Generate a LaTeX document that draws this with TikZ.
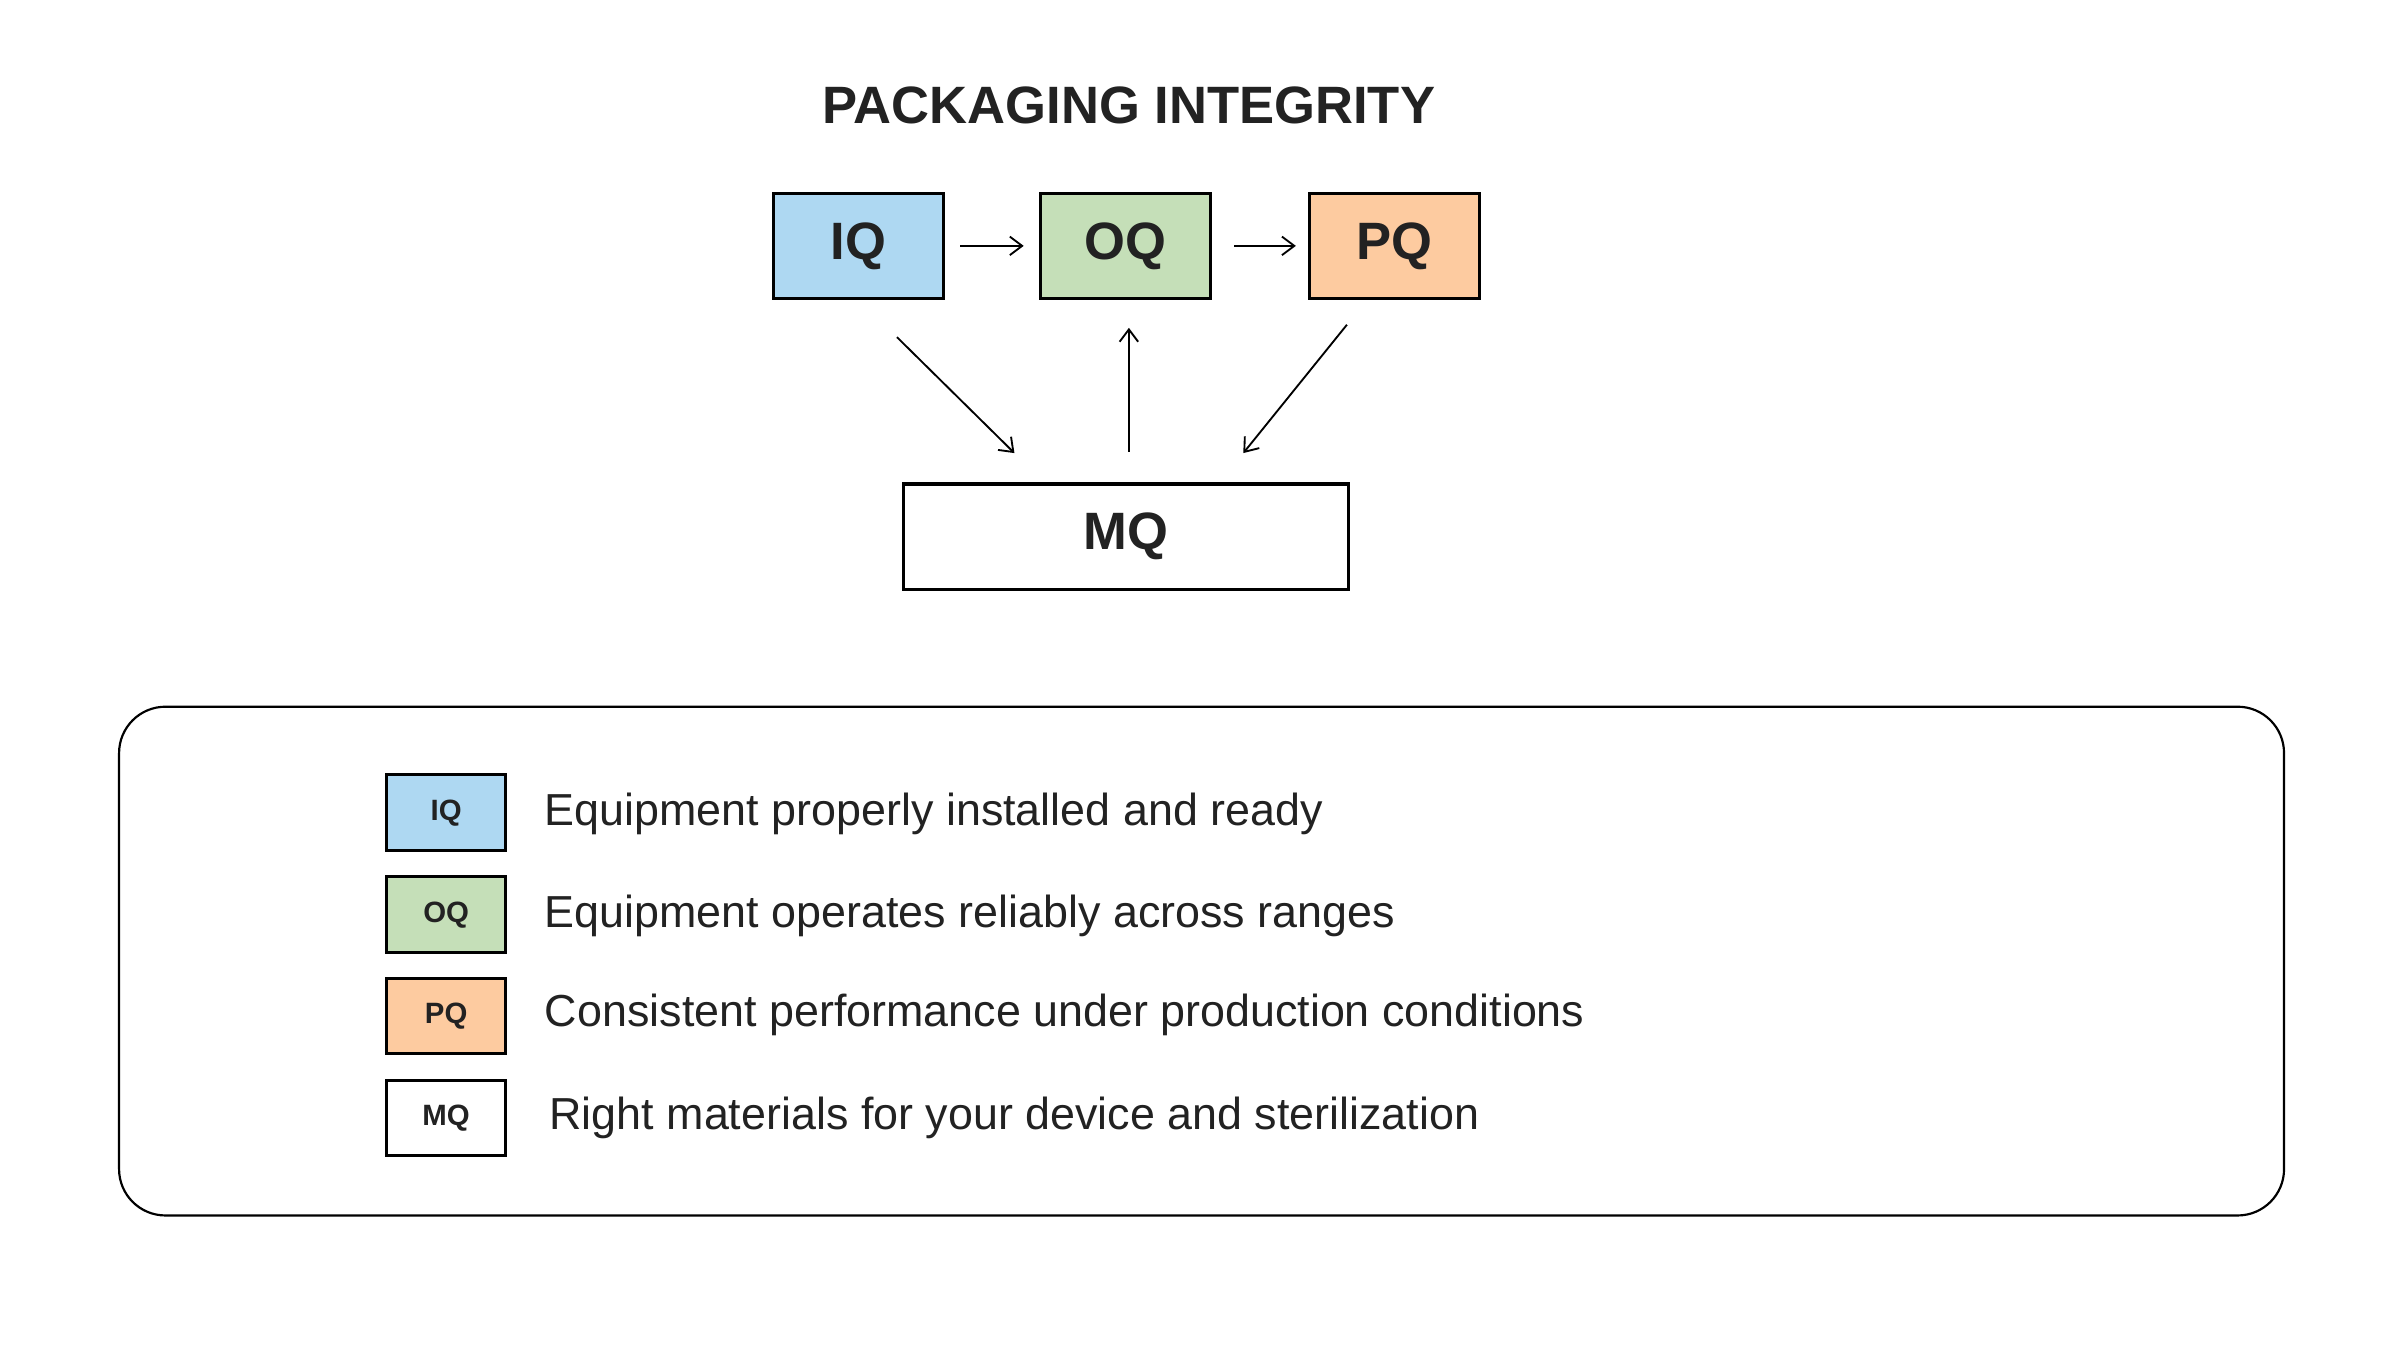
\documentclass[tikz,border=0pt]{standalone}
\usepackage{fontspec}
\setmainfont{Liberation Sans}
\usetikzlibrary{arrows.meta}
\definecolor{iqc}{HTML}{AED8F2}
\definecolor{oqc}{HTML}{C5DFB8}
\definecolor{pqc}{HTML}{FDCBA0}
\definecolor{txt}{HTML}{222222}
\begin{document}
\begin{tikzpicture}[x=0.5pt,y=-0.5pt,
  bigbox/.style={draw=black,line width=1pt,minimum width=55pt,minimum height=34pt,inner sep=0pt,font=\fontsize{17}{20}\selectfont\bfseries,text=txt},
  keybox/.style={draw=black,line width=1pt,minimum width=38.5pt,minimum height=24.5pt,inner sep=0pt,font=\fontsize{9.5}{11}\selectfont\bfseries,text=txt},
  desc/.style={anchor=west,font=\fontsize{14.5}{17}\selectfont,text=txt,inner sep=0pt},
  arr/.style={-{Straight Barb[length=4pt,width=6pt]},line width=0.6pt}]
\useasboundingbox (0,0) rectangle (1552,883);
\fill[white] (0,0) rectangle (1552,883);
\node[font=\fontsize{17}{20}\selectfont\bfseries,text=txt] (title) at (730,68) {PACKAGING INTEGRITY};
\node[bigbox,fill=iqc] (iq) at (555,159) {IQ};
\node[bigbox,fill=oqc] (oq) at (728,159) {OQ};
\node[bigbox,fill=pqc] (pq) at (902,159) {PQ};
\node[bigbox,fill=white,minimum width=144pt] (mq) at (728,347) {MQ};
\draw[arr] ([xshift=5pt]iq.east) -- ([xshift=-5pt]oq.west);
\draw[arr] ([xshift=7pt]oq.east) -- ([xshift=-4pt]pq.west);
\coordinate (a1) at (580,218); \coordinate (a2) at (656,293);
\coordinate (b1) at (730,292); \coordinate (b2) at (730,212);
\coordinate (c1) at (871,210); \coordinate (c2) at (804,293);
\draw[arr] (a1) -- (a2);
\draw[arr] (b1) -- (b2);
\draw[arr] (c1) -- (c2);
\draw[line width=0.7pt,rounded corners=15pt] (77,457) rectangle (1477,786);
\node[keybox,fill=iqc] (k1) at (288.5,525.5) {IQ};
\node[keybox,fill=oqc] (k2) at (288.5,591.5) {OQ};
\node[keybox,fill=pqc] (k3) at (288.5,657) {PQ};
\node[keybox,fill=white] (k4) at (288.5,723) {MQ};
\node[desc] (d1) at (352,526) {Equipment properly installed and ready};
\node[desc] (d2) at (352,592) {Equipment operates reliably across ranges};
\node[desc] (d3) at (352,656) {Consistent performance under production conditions};
\node[desc] (d4) at (355,723) {Right materials for your device and sterilization};
\end{tikzpicture}
\end{document}
